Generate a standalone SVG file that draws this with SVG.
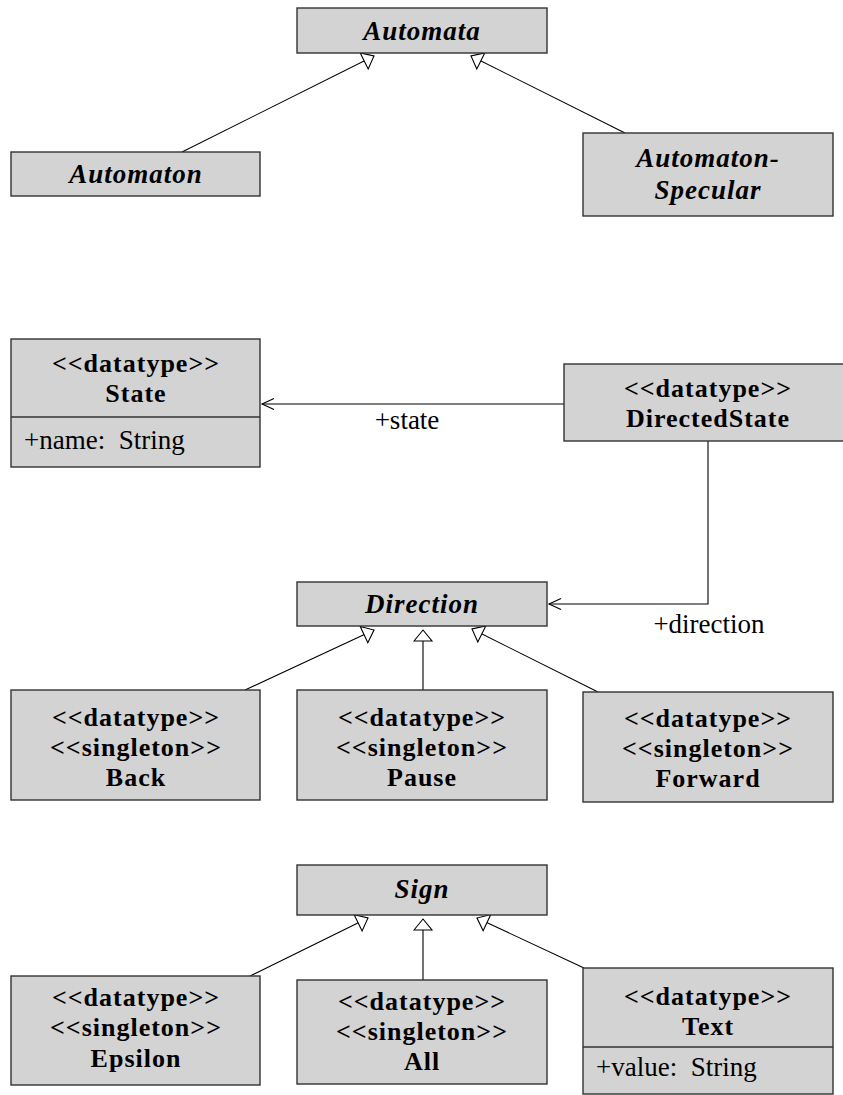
<svg xmlns="http://www.w3.org/2000/svg" width="843" height="1095" viewBox="0 0 843 1095">
  <defs>
    <style>
      .box { fill: #d3d3d3; stroke: #333333; stroke-width: 1.4; }
      .sep { stroke: #333333; stroke-width: 1.4; }
      .edge { fill: none; stroke: #000000; stroke-width: 1.1; }
      text { font-family: "Liberation Serif", "Times New Roman", serif; font-size: 26px; fill: #000000; }
      .st { font-weight: bold; text-anchor: middle; letter-spacing: 1px; }
      .abs { font-size: 27px; font-weight: bold; font-style: italic; text-anchor: middle; letter-spacing: 1px; }
      .attr { font-size: 27px; text-anchor: start; }
      .role { font-size: 27px; text-anchor: middle; }
    </style>
    <!-- hollow triangle for generalization -->
    <marker id="gen" markerUnits="userSpaceOnUse" viewBox="0 0 13 20" refX="12" refY="10" markerWidth="13" markerHeight="20" orient="auto" overflow="visible">
      <path d="M1,1 L12,10 L1,19 Z" fill="#ffffff" stroke="#000000" stroke-width="1.1"/>
    </marker>
    <!-- open arrowhead for navigable association -->
    <marker id="nav" markerUnits="userSpaceOnUse" viewBox="0 0 13 12" refX="12" refY="6" markerWidth="13" markerHeight="12" orient="auto" overflow="visible">
      <path d="M0,0.5 L12,6 L0,11.5" fill="none" stroke="#000000" stroke-width="1.1"/>
    </marker>
  </defs>

  <g id="connectors">
    <line class="edge" x1="182" y1="152" x2="374" y2="56" marker-end="url(#gen)"/>
    <line class="edge" x1="625" y1="133" x2="471" y2="56" marker-end="url(#gen)"/>
    <line class="edge" x1="564" y1="404" x2="262" y2="404" marker-end="url(#nav)"/>
    <polyline class="edge" points="708,441 708,604 549,604" marker-end="url(#nav)"/>
    <line class="edge" x1="245" y1="690" x2="374" y2="630" marker-end="url(#gen)"/>
    <line class="edge" x1="423" y1="690" x2="423" y2="630" marker-end="url(#gen)"/>
    <line class="edge" x1="598" y1="692" x2="472" y2="629" marker-end="url(#gen)"/>
    <line class="edge" x1="250" y1="976" x2="368" y2="918" marker-end="url(#gen)"/>
    <line class="edge" x1="423" y1="980" x2="423" y2="919" marker-end="url(#gen)"/>
    <line class="edge" x1="584" y1="968" x2="477" y2="918" marker-end="url(#gen)"/>
    <text class="role" x="407" y="429">+state</text>
    <text class="role" x="709" y="633">+direction</text>
  </g>

  <g id="Automata">
    <rect class="box" x="297" y="8" width="250" height="45"/>
    <text class="abs" x="422" y="40">Automata</text>
  </g>
  <g id="Automaton">
    <rect class="box" x="11" y="152" width="249" height="44"/>
    <text class="abs" x="136" y="183">Automaton</text>
  </g>
  <g id="AutomatonSpecular">
    <rect class="box" x="583" y="133" width="250" height="83"/>
    <text class="abs" x="708" y="167">Automaton-</text>
    <text class="abs" x="708" y="199">Specular</text>
  </g>

  <g id="State">
    <rect class="box" x="11" y="339" width="249" height="128"/>
    <line class="sep" x1="11" y1="417" x2="260" y2="417"/>
    <text class="st" x="136" y="372">&lt;&lt;datatype&gt;&gt;</text>
    <text class="st" x="136" y="402">State</text>
    <text class="attr" x="24" y="449">+name:&#160; String</text>
  </g>
  <g id="DirectedState">
    <rect class="box" x="564" y="364" width="288" height="77"/>
    <text class="st" x="708" y="397">&lt;&lt;datatype&gt;&gt;</text>
    <text class="st" x="708" y="427">DirectedState</text>
  </g>

  <g id="Direction">
    <rect class="box" x="297" y="582" width="250" height="44"/>
    <text class="abs" x="422" y="613">Direction</text>
  </g>
  <g id="Back">
    <rect class="box" x="11" y="690" width="249" height="110"/>
    <text class="st" x="136" y="726">&lt;&lt;datatype&gt;&gt;</text>
    <text class="st" x="136" y="756">&lt;&lt;singleton&gt;&gt;</text>
    <text class="st" x="136" y="786">Back</text>
  </g>
  <g id="Pause">
    <rect class="box" x="297" y="690" width="250" height="110"/>
    <text class="st" x="422" y="726">&lt;&lt;datatype&gt;&gt;</text>
    <text class="st" x="422" y="756">&lt;&lt;singleton&gt;&gt;</text>
    <text class="st" x="422" y="786">Pause</text>
  </g>
  <g id="Forward">
    <rect class="box" x="583" y="692" width="250" height="110"/>
    <text class="st" x="708" y="727">&lt;&lt;datatype&gt;&gt;</text>
    <text class="st" x="708" y="757">&lt;&lt;singleton&gt;&gt;</text>
    <text class="st" x="708" y="787">Forward</text>
  </g>

  <g id="Sign">
    <rect class="box" x="297" y="865" width="250" height="50"/>
    <text class="abs" x="422" y="898">Sign</text>
  </g>
  <g id="Epsilon">
    <rect class="box" x="11" y="976" width="249" height="109"/>
    <text class="st" x="136" y="1006">&lt;&lt;datatype&gt;&gt;</text>
    <text class="st" x="136" y="1036">&lt;&lt;singleton&gt;&gt;</text>
    <text class="st" x="136" y="1067">Epsilon</text>
  </g>
  <g id="All">
    <rect class="box" x="297" y="980" width="250" height="104"/>
    <text class="st" x="422" y="1010">&lt;&lt;datatype&gt;&gt;</text>
    <text class="st" x="422" y="1040">&lt;&lt;singleton&gt;&gt;</text>
    <text class="st" x="422" y="1070">All</text>
  </g>
  <g id="Text">
    <rect class="box" x="583" y="968" width="250" height="126"/>
    <line class="sep" x1="583" y1="1047" x2="833" y2="1047"/>
    <text class="st" x="708" y="1005">&lt;&lt;datatype&gt;&gt;</text>
    <text class="st" x="708" y="1035">Text</text>
    <text class="attr" x="596" y="1076">+value:&#160; String</text>
  </g>
</svg>
